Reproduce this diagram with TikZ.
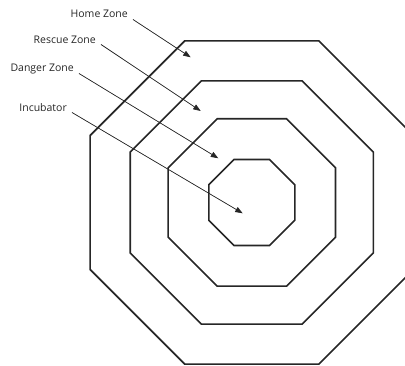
\documentclass[tikz,border=0pt]{standalone}
\usepackage{fontspec}
\setmainfont{Open Sans}
\usetikzlibrary{arrows.meta, calc}

\begin{document}
\begin{tikzpicture}[
    x=1pt, y=-1pt,
    zone/.style={line width=1.6pt, draw=black!85, line join=miter},
    zonelabel/.style={anchor=base east, inner xsep=5pt, inner ysep=0pt, font=\fontsize{10.5}{12}\selectfont, text=black!85},
    pointer/.style={-{Triangle[length=7.5pt, width=5.5pt]}, line width=0.7pt, draw=black!85, fill=black!85}
]
\useasboundingbox (0,0) rectangle (405,366);
\clip (0,0) rectangle (405,366);
\coordinate (ctr) at (251.8,202.5);
% concentric octagons, given by their apothem
\foreach \apo in {161.7, 121.6, 83.7, 43} {
    \draw[zone] ($(ctr)+(22.5:\apo/0.92388)$)
        \foreach \ang in {67.5, 112.5, ..., 337.5} { -- ($(ctr)+(\ang:\apo/0.92388)$) } -- cycle;
}
\node[zonelabel] (homelbl) at (133,17.5) {Home Zone};
\node[zonelabel] (rescuelbl) at (101,43.5) {Rescue Zone};
\node[zonelabel] (dangerlbl) at (79,71.5) {Danger Zone};
\node[zonelabel] (incublbl) at (72,111.5) {Incubator};
\coordinate (hometip) at (190.7,57.3);
\coordinate (rescuetip) at (200.7,111);
\coordinate (dangertip) at (218.3,158.3);
\coordinate (incubtip) at (242.7,213.3);
\draw[pointer] ([yshift=-2pt]homelbl.base east) -- (hometip);
\draw[pointer] ([yshift=-1pt]rescuelbl.base east) -- (rescuetip);
\draw[pointer] ([yshift=-2pt]dangerlbl.base east) -- (dangertip);
\draw[pointer] ([yshift=-1pt]incublbl.base east) -- (incubtip);
\end{tikzpicture}
\end{document}
